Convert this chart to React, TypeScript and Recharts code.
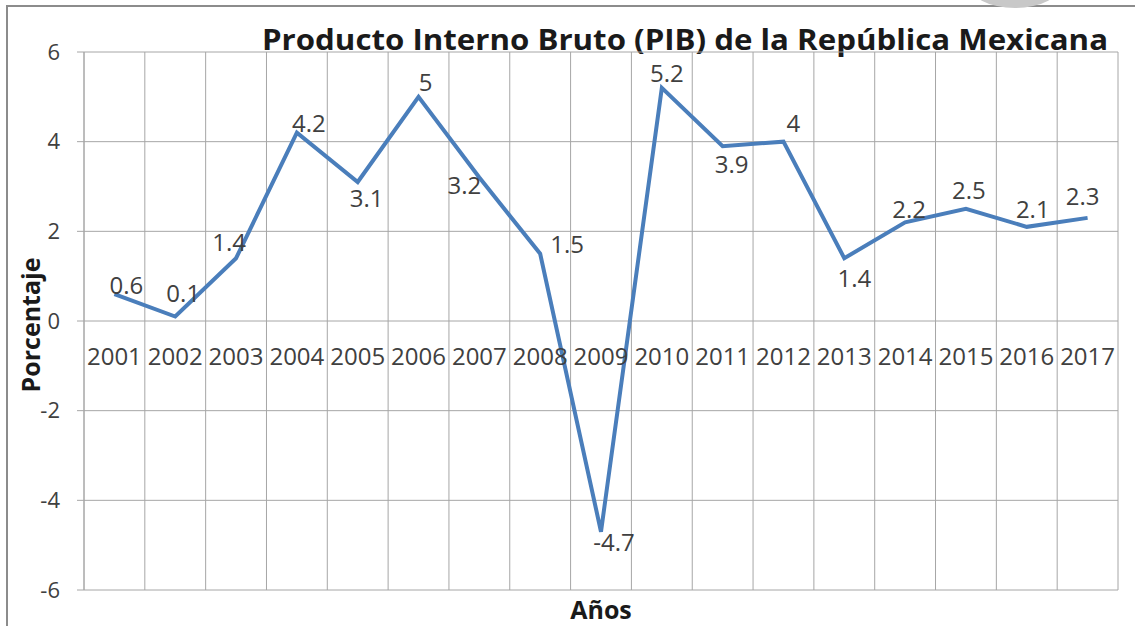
import { ComposedChart, Line, XAxis, YAxis, CartesianGrid, LabelList } from 'recharts';

const years = ['2001', '2002', '2003', '2004', '2005', '2006', '2007', '2008', '2009', '2010', '2011', '2012', '2013', '2014', '2015', '2016', '2017'];
const pib = [0.6, 0.1, 1.4, 4.2, 3.1, 5, 3.2, 1.5, -4.7, 5.2, 3.9, 4, 1.4, 2.2, 2.5, 2.1, 2.3];
const yTicks = [-6, -4, -2, 0, 2, 4, 6];

// where each data label sits relative to its point (Excel put them by hand)
const labelDx = [12, 8, -7, 12, 9, 7, -15, 27, 13, 5, 9, 10, 10, 4, 3, 6, -5];
const labelDy = [-9, -23, -16, -9, 16, -14, 8, -9, 11, -14, 18, -18, 20, -13, -18, -17, -21];

const data = years.map((year, i) => ({ year, pib: pib[i] }));

const W = 1135;
const H = 626;
const PLOT_TOP = 52;
const PLOT_BOTTOM = 36;
const PLOT_H = H - PLOT_TOP - PLOT_BOTTOM;
const Y_MIN = -6;
const Y_MAX = 6;
const ZERO_Y = PLOT_TOP + (PLOT_H * Y_MAX) / (Y_MAX - Y_MIN);

const TEXT = '#404040';
const GRID = '#a6a6a6';
const FONT = '"Open Sans", sans-serif';

const YearTick = (props: any) => {
  const { x, payload } = props;
  return (
    <text x={x} y={ZERO_Y + 44} textAnchor="middle" fill={TEXT} fontSize={24}>
      {payload.value}
    </text>
  );
};

const PointLabel = (props: any) => {
  const { x, y, value, index } = props;
  if (x == null || y == null) return null;
  return (
    <text x={x + labelDx[index]} y={y + labelDy[index]} dy={8.5} textAnchor="middle" fill={TEXT} fontSize={24}>
      {value}
    </text>
  );
};

export default function App() {
  return (
    <div style={{ position: 'absolute', left: 0, top: 0, width: W, height: H, overflow: 'hidden', background: '#fff', fontFamily: FONT }}>
      {/* frame of the pasted chart + the grey blob at the top */}
      <div style={{ position: 'absolute', left: 6, top: 5, width: W + 20, height: H + 20, border: '2px solid #8c8c8c' }} />
      <div style={{ position: 'absolute', left: 968, top: -42, width: 94, height: 50, borderRadius: '50%', background: '#c8c8c8' }} />

      <svg width={W} height={H} style={{ position: 'absolute', left: 0, top: 0 }}>
        <text x={262} y={50} fontSize={28} fontWeight="bold" fill="#1a1a1a" textLength={846} lengthAdjust="spacingAndGlyphs">
          Producto Interno Bruto (PIB) de la República Mexicana
        </text>
        <text
          x={0}
          y={0}
          transform={`translate(40, ${ZERO_Y + 4}) rotate(-90)`}
          textAnchor="middle"
          fontSize={25}
          fontWeight="bold"
          fill="#1a1a1a"
        >
          Porcentaje
        </text>
        <text x={601} y={619} textAnchor="middle" fontSize={25} fontWeight="bold" fill="#1a1a1a">
          Años
        </text>
      </svg>

      <div style={{ position: 'absolute', left: 0, top: 0 }}>
        <ComposedChart width={W} height={H} data={data} margin={{ top: PLOT_TOP, right: 17, bottom: 0, left: 0 }}>
          <CartesianGrid
            stroke={GRID}
            strokeWidth={1}
            verticalCoordinatesGenerator={({ offset }: any) =>
              Array.from({ length: years.length + 1 }, (_, i) => offset.left + (i * offset.width) / years.length)
            }
          />
          <XAxis
            dataKey="year"
            scale="band"
            height={PLOT_BOTTOM}
            axisLine={false}
            tickLine={false}
            interval={0}
            tick={<YearTick />}
          />
          <YAxis
            domain={[Y_MIN, Y_MAX]}
            ticks={yTicks}
            width={84}
            axisLine={{ stroke: GRID }}
            tickLine={{ stroke: GRID }}
            tickSize={7}
            tickMargin={17}
            tick={{ fill: TEXT, fontSize: 22 }}
            interval={0}
          />
          <Line
            type="linear"
            dataKey="pib"
            stroke="#4a7ebb"
            strokeWidth={4}
            dot={false}
            activeDot={false}
            isAnimationActive={false}
          >
            <LabelList dataKey="pib" content={<PointLabel />} />
          </Line>
        </ComposedChart>
      </div>
    </div>
  );
}
